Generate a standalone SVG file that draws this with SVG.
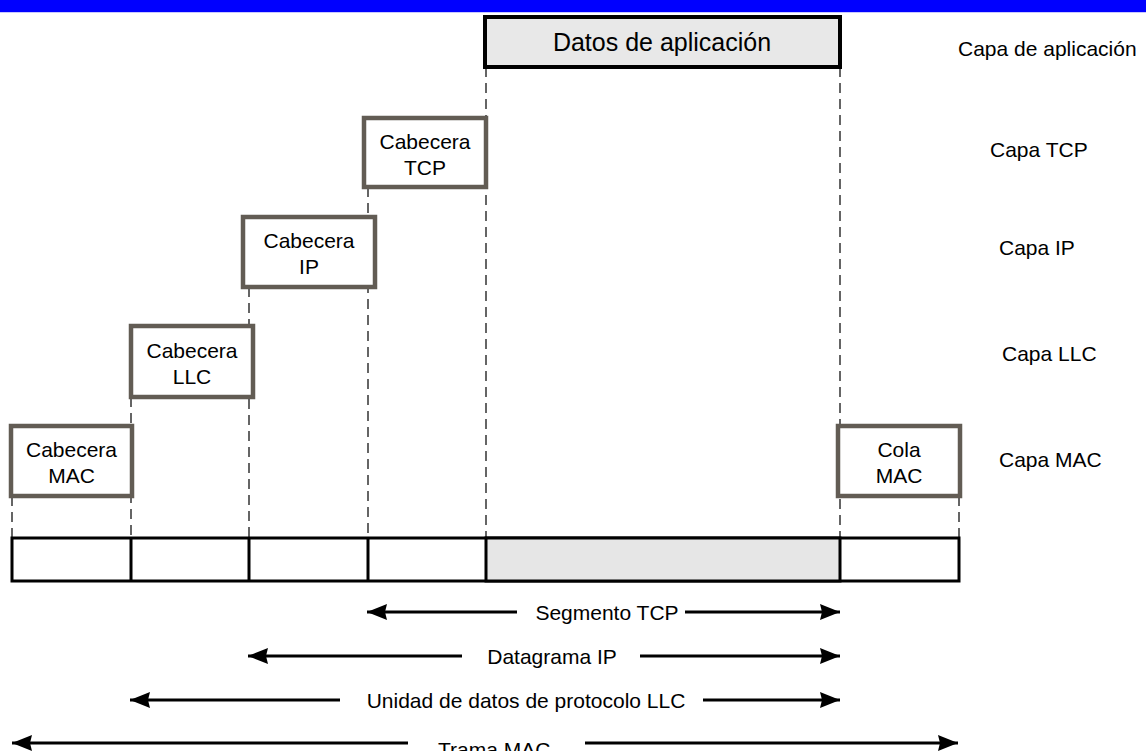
<svg xmlns="http://www.w3.org/2000/svg" width="1146" height="751" viewBox="0 0 1146 751">
<style>
text{font-family:"Liberation Sans",Arial,sans-serif;font-size:21px;fill:#000}
.c{text-anchor:middle}
.hdr{fill:#fff;stroke:#625c54;stroke-width:4.5}
.dash{stroke:#333;stroke-width:1.5;stroke-dasharray:10 6;fill:none}
.arr{stroke:#000;stroke-width:3;fill:none}
.cell{fill:#fff;stroke:#000;stroke-width:3}
</style>
<defs>
<marker id="ah" markerUnits="userSpaceOnUse" markerWidth="22" markerHeight="18" refX="20" refY="8" orient="auto-start-reverse" viewBox="0 0 22 18">
<path d="M0,0 L20,8 L0,16 L2,8 z" fill="#000"/>
</marker>
</defs>
<rect width="1146" height="751" fill="#fff"/>
<rect x="0" y="0" width="1146" height="12" fill="#0000ff"/>
<line x1="0" y1="12.5" x2="1146" y2="12.5" stroke="#c8c8ff" stroke-width="1"/>

<g id="guides">
<line class="dash" x1="12" y1="496" x2="12" y2="538"/>
<line class="dash" x1="131" y1="397" x2="131" y2="538"/>
<line class="dash" x1="249" y1="287" x2="249" y2="538"/>
<line class="dash" x1="368" y1="187" x2="368" y2="538"/>
<line class="dash" x1="486" y1="67" x2="486" y2="538"/>
<line class="dash" x1="840" y1="67" x2="840" y2="538"/>
<line class="dash" x1="959" y1="496" x2="959" y2="538"/>
</g>

<g id="app-data">
<rect x="485" y="17" width="355" height="50" fill="#e8e8e8" stroke="#000" stroke-width="4"/>
<text class="c" x="662" y="51" style="font-size:25px">Datos de aplicación</text>
</g>

<g id="tcp-header">
<rect class="hdr" x="364" y="118" width="122" height="69"/>
<text class="c" x="425" y="149">Cabecera</text>
<text class="c" x="425" y="175">TCP</text>
</g>

<g id="ip-header">
<rect class="hdr" x="243" y="217" width="132" height="70"/>
<text class="c" x="309" y="248">Cabecera</text>
<text class="c" x="309" y="274">IP</text>
</g>

<g id="llc-header">
<rect class="hdr" x="131" y="326" width="122" height="71"/>
<text class="c" x="192" y="358">Cabecera</text>
<text class="c" x="192" y="384">LLC</text>
</g>

<g id="mac-header">
<rect class="hdr" x="11" y="426" width="121" height="70"/>
<text class="c" x="71.5" y="457">Cabecera</text>
<text class="c" x="71.5" y="483">MAC</text>
</g>

<g id="mac-tail">
<rect class="hdr" x="838" y="426" width="122" height="70"/>
<text class="c" x="899" y="457">Cola</text>
<text class="c" x="899" y="483">MAC</text>
</g>

<g id="layer-labels">
<text x="958" y="56">Capa de aplicación</text>
<text x="990" y="157">Capa TCP</text>
<text x="999" y="255">Capa IP</text>
<text x="1002" y="361">Capa LLC</text>
<text x="999" y="467">Capa MAC</text>
</g>

<g id="frame">
<rect class="cell" x="12" y="538" width="947" height="43"/>
<rect x="486" y="538" width="354" height="43" fill="#e6e6e6" stroke="#000" stroke-width="3"/>
<line x1="131" y1="538" x2="131" y2="581" stroke="#000" stroke-width="3"/>
<line x1="249" y1="538" x2="249" y2="581" stroke="#000" stroke-width="3"/>
<line x1="368" y1="538" x2="368" y2="581" stroke="#000" stroke-width="3"/>
</g>

<g id="connectors">
<line class="arr" x1="517" y1="612" x2="367" y2="612" marker-end="url(#ah)"/>
<line class="arr" x1="685" y1="612" x2="840" y2="612" marker-end="url(#ah)"/>
<line class="arr" x1="462" y1="656" x2="248" y2="656" marker-end="url(#ah)"/>
<line class="arr" x1="640" y1="656" x2="840" y2="656" marker-end="url(#ah)"/>
<line class="arr" x1="340" y1="700" x2="130" y2="700" marker-end="url(#ah)"/>
<line class="arr" x1="703" y1="700" x2="840" y2="700" marker-end="url(#ah)"/>
<line class="arr" x1="408" y1="743" x2="12" y2="743" marker-end="url(#ah)"/>
<line class="arr" x1="585" y1="743" x2="958" y2="743" marker-end="url(#ah)"/>
</g>

<g id="span-labels">
<text class="c" x="607" y="620">Segmento TCP</text>
<text class="c" x="552" y="664">Datagrama IP</text>
<text class="c" x="526" y="708">Unidad de datos de protocolo LLC</text>
<text x="438" y="757">Trama MAC</text>
</g>
</svg>
